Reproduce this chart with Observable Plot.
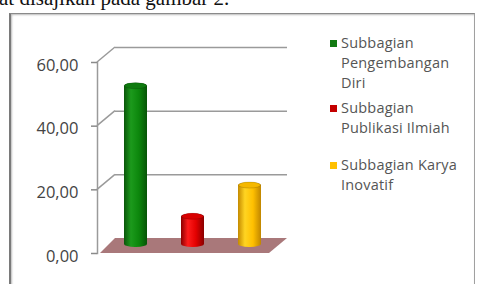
<!DOCTYPE html>
<html>
<head>
<meta charset="utf-8">
<script src="https://cdn.jsdelivr.net/npm/d3@7"></script>
<script src="https://cdn.jsdelivr.net/npm/@observablehq/plot@0.6"></script>
<style>
html,body{margin:0;padding:0;background:#fff;overflow:hidden}
#wrap{position:relative;width:479px;height:284px;overflow:hidden;background:#fff}
#caption{position:absolute;left:-1px;top:-14px;font-family:"Liberation Serif",serif;font-size:21px;color:#111;white-space:nowrap}
#box{position:absolute;left:9px;top:13px;width:463px;height:300px;border:1px solid #a0a0a0;border-left:2px solid #7a7a7a;border-top:1px solid #8a8a8a;box-shadow:1px 1px 2px #bbb inset}
#chart{position:absolute;left:0;top:0}
.leg{position:absolute;left:330px;font-family:"Open Sans",sans-serif;font-size:14.5px;line-height:20px;color:#555;letter-spacing:0.2px}
.leg .sw{position:absolute;left:0;top:7px;width:7px;height:7px}
.leg .tx{position:absolute;left:11px;top:0;white-space:nowrap}
</style>
</head>
<body>
<div id="wrap">
  <div id="caption">at disajikan pada gambar 2.</div>
  <div id="box"></div>
  <svg width="0" height="0" style="position:absolute">
    <defs>
      <linearGradient id="cyl0" x1="0" x2="1" y1="0" y2="0">
        <stop offset="0" stop-color="#0a560a"/><stop offset="0.3" stop-color="#1c9a1c"/><stop offset="0.65" stop-color="#0c860c"/><stop offset="1" stop-color="#075407"/>
      </linearGradient>
      <linearGradient id="cyl1" x1="0" x2="1" y1="0" y2="0">
        <stop offset="0" stop-color="#8c0000"/><stop offset="0.3" stop-color="#ff1c1c"/><stop offset="0.65" stop-color="#e30000"/><stop offset="1" stop-color="#8a0000"/>
      </linearGradient>
      <linearGradient id="cyl2" x1="0" x2="1" y1="0" y2="0">
        <stop offset="0" stop-color="#c48a00"/><stop offset="0.3" stop-color="#ffd422"/><stop offset="0.65" stop-color="#ffc000"/><stop offset="1" stop-color="#c08600"/>
      </linearGradient>
    </defs>
  </svg>
  <div id="chart"></div>
  <div id="legend"></div>
</div>
<script>
// ---- data ----
const categories = ["Subbagian Pengembangan Diri", "Subbagian Publikasi Ilmiah", "Subbagian Karya Inovatif"];
const values = [51.6, 10.6, 20.4];
const yTicks = [0, 20, 40, 60];
const gridTicks = [20, 40, 60];
const legendLines = [["Subbagian", "Pengembangan", "Diri"], ["Subbagian", "Publikasi Ilmiah"], ["Subbagian Karya", "Inovatif"]];
const seriesColors = ["#127a12", "#c40000", "#ffc000"];
const topColors = ["#0e7a0e", "#d80000", "#f5b800"];
const legendTops = [33, 98, 155];

// ---- build ----
const data = categories.map((c, i) => ({cat: c, value: values[i], i}));
const back = {dx: 18, dy: -15};
const mid = {dx: 9, dy: -6};
const fmt = d => d.toFixed(2).replace(".", ",");

function floor(index, scales, vals, dims) {
  const y0 = scales.y(0);
  const l = dims.marginLeft + 3, r = dims.width - dims.marginRight;
  const g = d3.create("svg:g");
  g.append("polygon")
    .attr("points", [[l, y0], [r, y0], [r + back.dx, y0 + back.dy], [l + back.dx - 3, y0 + back.dy]].map(p => p.join(",")).join(" "))
    .attr("fill", "#a9787a");
  return g.node();
}

function diagonals(index, scales, vals, dims) {
  const l = dims.marginLeft;
  const g = d3.create("svg:g").attr("stroke", "#9a9a9a").attr("stroke-width", 1.5).attr("fill", "none");
  for (const t of gridTicks) {
    const y = scales.y(t);
    g.append("line").attr("x1", l).attr("y1", y).attr("x2", l + back.dx).attr("y2", y + back.dy);
  }
  return g.node();
}

function tops(index, scales, vals, dims) {
  const g = d3.create("svg:g");
  const bw = typeof scales.x.bandwidth === "function" ? scales.x.bandwidth() : scales.x.bandwidth;
  for (const d of data) {
    const cx = scales.x(d.cat) + bw / 2 + mid.dx;
    const cy = scales.y(d.value) + mid.dy + 3;
    g.append("ellipse").attr("cx", cx).attr("cy", cy).attr("rx", bw / 2 - 0.5).attr("ry", 3)
      .attr("fill", topColors[d.i]).attr("stroke", "rgba(0,0,0,0.25)").attr("stroke-width", 0.6);
  }
  return g.node();
}

const plot = Plot.plot({
  width: 479,
  height: 284,
  marginLeft: 97,
  marginRight: 210,
  marginTop: 62,
  marginBottom: 31,
  style: "font-family:'Open Sans',sans-serif;background:transparent;overflow:visible",
  x: {domain: categories, paddingInner: 0.6, paddingOuter: 0.3, axis: null},
  y: {domain: [0, 60], axis: null},
  marks: [
    Plot.ruleY(gridTicks, {dx: back.dx, dy: back.dy, stroke: "#9a9a9a", strokeWidth: 1.5}),
    diagonals,
    Plot.frame({anchor: "left", stroke: "#9a9a9a", strokeWidth: 1.5}),
    Plot.axisY({ticks: yTicks, tickSize: 6, tickFormat: () => "", stroke: "#8a8a8a", strokeWidth: 1.5, label: null}),
    Plot.axisY({ticks: yTicks, tickSize: 0, tickPadding: 19, dy: 3, tickFormat: fmt, fontSize: 16.5, fill: "#444", label: null, style: "letter-spacing:2px"}),
    floor,
    ...data.map(d => Plot.barY([d], {x: "cat", y: "value", fill: `url(#cyl${d.i})`, rx: 11, ry: 3, dx: mid.dx, dy: mid.dy})),
    tops
  ]
});
document.getElementById("chart").appendChild(plot);

const legend = document.getElementById("legend");
legendLines.forEach((lines, i) => {
  const e = document.createElement("div");
  e.className = "leg";
  e.style.top = legendTops[i] + "px";
  const sw = document.createElement("div");
  sw.className = "sw";
  sw.style.background = seriesColors[i];
  const tx = document.createElement("div");
  tx.className = "tx";
  tx.innerHTML = lines.join("<br>");
  e.appendChild(sw);
  e.appendChild(tx);
  legend.appendChild(e);
});
</script>
</body>
</html>
